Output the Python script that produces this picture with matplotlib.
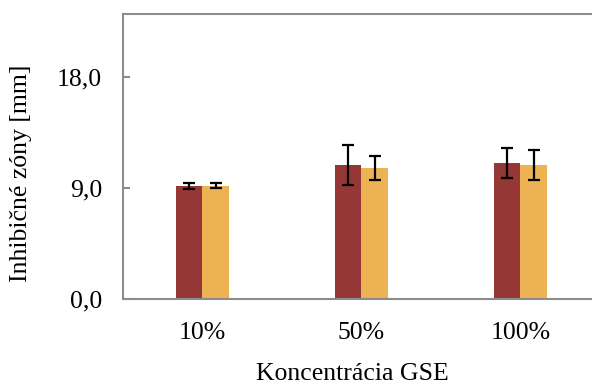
import matplotlib
matplotlib.use("Agg")
import matplotlib.pyplot as plt
import numpy as np

categories = ["10%", "50%", "100%"]
series1 = [9.15, 10.83, 10.99]
series1_err = [0.25, 1.6, 1.22]
series2 = [9.15, 10.58, 10.85]
series2_err = [0.22, 1.0, 1.23]
yticks = [0.0, 9.0, 18.0]
ytick_labels = ["0,0", "9,0", "18,0"]

plt.rcParams['font.family'] = ['Liberation Serif', 'DejaVu Serif']

fig = plt.figure(figsize=(5.92, 3.85), dpi=100)
ax = fig.add_axes([123/592, 1-298.5/385, 477/592, (298.5-14)/385])

x = np.arange(len(categories))
w = 0.168
grey = "#8c8c8c"
fs = 18.5
ax.bar(x - w/2, series1, width=w, color="#953735", zorder=2)
ax.bar(x + w/2, series2, width=w, color="#EDB253", zorder=2)
ax.errorbar(x - w/2, series1, yerr=series1_err, fmt="none", ecolor="black",
            elinewidth=1.6, capsize=4.3, capthick=1.6, zorder=3)
ax.errorbar(x + w/2, series2, yerr=series2_err, fmt="none", ecolor="black",
            elinewidth=1.6, capsize=4.3, capthick=1.6, zorder=3)

ax.set_xlim(-0.5, 2.5)
ax.set_ylim(0, 23.07)
ax.set_yticks(yticks)
ax.set_yticklabels(ytick_labels, fontsize=fs)
ax.set_xticks(x)
ax.set_xticklabels(categories, fontsize=fs)
ax.tick_params(axis='y', direction='in', length=5, width=1.5, color=grey, pad=15)
ax.tick_params(axis='x', length=0, pad=17)
for s in ax.spines.values():
    s.set_color(grey)
    s.set_linewidth(1.5)

ax.set_ylabel("Inhibičné zóny [mm]", fontsize=fs)
ax.yaxis.set_label_coords(-0.19, 0.441)
ax.set_xlabel("Koncentrácia GSE", fontsize=fs)
ax.xaxis.label.set_va('baseline')
ax.xaxis.set_label_coords((352 - 123) / 477, (298.5 - 379.5) / 284.5)

fig.savefig("out.png", dpi=100)
